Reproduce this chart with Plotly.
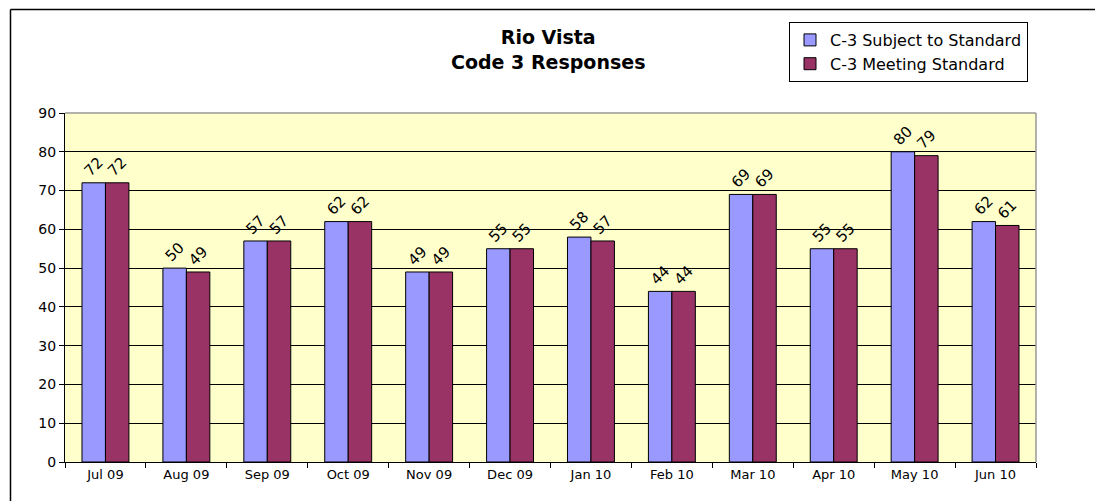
import plotly.graph_objects as go

months = ["Jul 09", "Aug 09", "Sep 09", "Oct 09", "Nov 09", "Dec 09",
          "Jan 10", "Feb 10", "Mar 10", "Apr 10", "May 10", "Jun 10"]
subject = [72, 50, 57, 62, 49, 55, 58, 44, 69, 55, 80, 62]
meeting = [72, 49, 57, 62, 49, 55, 57, 44, 69, 55, 79, 61]

W, H = 1095, 501
# page-pixel positions of the plot area
PL, PR, PT, PB = 65, 1036, 113, 462
L, T, R, B = PL, PT, W - PR, H - PB
pw, ph = W - L - R, H - T - B

def px_x(x):
    return (x - PL) / pw

def px_y(y):
    return (PB - y) / ph

font = "DejaVu Sans, Arial, sans-serif"

fig = go.Figure()
fig.add_trace(go.Bar(
    x=months, y=subject, name="C-3 Subject to Standard",
    marker=dict(color="#9999FF", line=dict(color="black", width=1)),
    text=[str(v) for v in subject], textposition="outside", textangle=-45,
    textfont=dict(family=font, size=15, color="black"), cliponaxis=False,
))
fig.add_trace(go.Bar(
    x=months, y=meeting, name="C-3 Meeting Standard",
    marker=dict(color="#993366", line=dict(color="black", width=1)),
    text=[str(v) for v in meeting], textposition="outside", textangle=-45,
    textfont=dict(family=font, size=15, color="black"), cliponaxis=False,
))

fig.update_layout(
    width=W, height=H,
    margin=dict(l=L, r=R, t=T, b=B, autoexpand=False),
    paper_bgcolor="white", plot_bgcolor="#FFFFCC",
    barmode="group", bargap=0.42, bargroupgap=0,
    font=dict(family=font, size=13, color="black"),
    showlegend=True,
    legend=dict(
        x=px_x(789), y=px_y(22), xanchor="left", yanchor="top",
        bgcolor="white", bordercolor="black", borderwidth=1,
        font=dict(family=font, size=16, color="black"),
        tracegroupgap=0, itemwidth=30,
    ),
    uniformtext=dict(mode=False),
)
fig.update_xaxes(
    type="category", showline=True, linecolor="black", linewidth=1,
    ticks="outside", tickson="boundaries", ticklen=5, tickcolor="black",
    showgrid=False, tickfont=dict(family=font, size=13),
)
fig.update_yaxes(
    range=[0, 90], dtick=10, showline=True, linecolor="black", linewidth=1,
    ticks="outside", ticklen=5, tickcolor="black",
    showgrid=True, gridcolor="black", gridwidth=1,
    zeroline=False, tickfont=dict(family=font, size=14),
)

# title
fig.add_annotation(
    xref="paper", yref="paper", x=px_x(548), y=px_y(50),
    text="<b>Rio Vista<br>Code 3 Responses</b>", showarrow=False,
    font=dict(family=font, size=19, color="black"),
    xanchor="center", yanchor="middle", align="center",
)

# plot area border (top, right) in grey
fig.add_shape(type="line", xref="paper", yref="paper", x0=0, x1=1, y0=1, y1=1,
              line=dict(color="#999999", width=1.5), layer="above")
fig.add_shape(type="line", xref="paper", yref="paper", x0=1, x1=1, y0=0, y1=1,
              line=dict(color="#999999", width=1.5), layer="above")

# outer chart border (top and left edges only are visible)
fig.add_shape(type="line", xref="paper", yref="paper",
              x0=px_x(10.5), x1=px_x(W), y0=px_y(9.5), y1=px_y(9.5),
              line=dict(color="black", width=1.5), layer="above")
fig.add_shape(type="line", xref="paper", yref="paper",
              x0=px_x(10.5), x1=px_x(10.5), y0=px_y(9.5), y1=px_y(H),
              line=dict(color="black", width=1.5), layer="above")

fig.write_html(
    "out.html",
    config={"displayModeBar": False},
    post_script="document.body.style.margin='0';document.body.style.overflow='hidden';",
)
